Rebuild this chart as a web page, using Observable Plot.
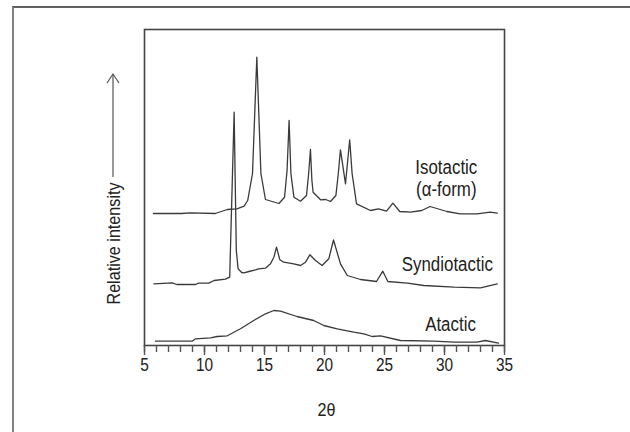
<!DOCTYPE html>
<html><head><meta charset="utf-8">
<script src="https://cdn.jsdelivr.net/npm/d3@7"></script>
<script src="https://cdn.jsdelivr.net/npm/@observablehq/plot@0.6"></script>
<style>
html,body{margin:0;padding:0;background:#fff;}
#wrap{position:relative;width:630px;height:432px;overflow:hidden;background:#fff;}
#chart{position:absolute;left:0;top:0;}
#outer{position:absolute;left:12px;top:6px;width:700px;height:600px;border-left:2px solid #808080;border-top:2px solid #606060;pointer-events:none;}
</style></head><body><div id="wrap"><div id="chart"></div><div id="outer"></div></div>
<script>
// 2θ positions (degrees) and relative intensity (arbitrary units)
const isoTheta = [5.75, 8.1, 8.8, 10.9, 11.9, 12.7, 13.3, 13.6, 14.0, 14.36, 14.7, 15.08, 16.2, 16.67, 16.88, 17.05, 17.2, 17.45, 18.0, 18.5, 18.68, 18.83, 18.95, 19.05, 19.67, 20.1, 20.5, 20.95, 21.15, 21.33, 21.75, 22.1, 22.3, 22.67, 23.83, 24.5, 25.17, 25.7, 26.27, 27.17, 28.1, 28.8, 30.2, 31.3, 32.7, 33.8, 34.4];
const isoIntensity = [132, 132, 132.7, 132, 136, 136.7, 139.3, 145, 172, 288.3, 172, 146, 142, 148.3, 175, 225, 172, 148.3, 144.3, 150, 172, 196, 165, 153.3, 145.7, 146, 144, 150, 172, 195.7, 161.7, 205.7, 172, 141.7, 135, 136.7, 134.3, 142.3, 134, 133.3, 135, 139, 134, 131.7, 131.7, 133.3, 132.3];

const synTheta = [5.78, 7.3, 7.7, 9.25, 9.5, 10.36, 10.8, 11.75, 12.1, 12.47, 12.65, 12.8, 13.1, 13.28, 13.7, 14.25, 14.5, 15.08, 15.5, 15.78, 16.0, 16.28, 16.6, 17.44, 18.0, 18.42, 18.78, 19.25, 19.8, 20.36, 20.75, 21.33, 21.9, 23.0, 24.33, 24.86, 25.28, 26.9, 28.28, 30.8, 33.0, 34.4];
const synIntensity = [61.7, 62.7, 61, 61, 62.3, 62.3, 65, 66.3, 68.3, 233.3, 95, 76.7, 73, 72.7, 74, 75.7, 76.7, 77.3, 81.7, 88.3, 98.3, 85.7, 83.3, 81.7, 80, 83.3, 90.7, 85, 80, 86.7, 105.5, 81.7, 70, 66, 64, 74.3, 64, 62.3, 60, 58.3, 57.7, 61.7];

const ataTheta = [5.92, 8.97, 9.25, 10.5, 11.06, 11.9, 13.0, 14.1, 15.08, 15.78, 16.33, 17.7, 19.1, 19.94, 21.06, 22.44, 23.28, 23.97, 24.67, 26.33, 29.1, 30.78, 32.7, 33.4, 34.5];
const ataIntensity = [4.3, 4.3, 6.7, 7.7, 9, 9.7, 16.7, 25, 31.7, 35, 34.3, 29, 25, 20, 16.7, 13.3, 11.7, 9, 9.7, 5, 4.3, 3.3, 3.3, 5, 2.3];

const seriesNames = ["Isotactic\n(α-form)", "Syndiotactic", "Atactic"];
const majorTicks = [5, 10, 15, 20, 25, 30, 35];
const minorTicks = d3.range(5, 36, 1);
const xLabel = "2θ";
const yLabel = "Relative intensity";

const toRows = (name, xs, ys) => xs.map((t, i) => ({form: name, theta: t, intensity: ys[i]}));
const iso = toRows(seriesNames[0], isoTheta, isoIntensity);
const syn = toRows(seriesNames[1], synTheta, synIntensity);
const ata = toRows(seriesNames[2], ataTheta, ataIntensity);
const all = [...iso, ...syn, ...ata];

const font = "'Liberation Sans Narrow', 'Liberation Sans', Arial, sans-serif";
const ink = "#3a3a3a";
const textInk = "#222";

// decorative arrow for the y label, placed relative to the frame
function yArrow(index, scales, values, dims) {
  const g = d3.create("svg:g").attr("stroke", "#555").attr("fill", "none").attr("stroke-width", 1.2);
  const x = dims.marginLeft - 31;
  const top = dims.marginTop + 45;
  const bottom = dims.marginTop + 148;
  g.append("line").attr("x1", x).attr("x2", x).attr("y1", bottom).attr("y2", top);
  g.append("path").attr("d", `M${x - 6},${top + 9}L${x},${top}L${x + 6},${top + 9}`);
  return g.node();
}

const chart = Plot.plot({
  width: 630,
  height: 432,
  marginLeft: 144,
  marginRight: 126,
  marginTop: 29,
  marginBottom: 87,
  style: {fontFamily: font, fontSize: "17px", background: "transparent", color: textInk},
  x: {domain: [5, 35]},
  y: {domain: [0, 316], axis: null},
  marks: [
    Plot.line(all, {x: "theta", y: "intensity", z: "form", stroke: ink, strokeWidth: 1.3}),
    Plot.frame({stroke: "#444", strokeWidth: 1.6}),
    Plot.axisX({ticks: minorTicks, tickSize: 7, text: null, stroke: "#555", strokeWidth: 1.4, label: null}),
    Plot.axisX({ticks: majorTicks, tickSize: 10, tickPadding: 3, fontSize: 17.5, stroke: "#555", strokeWidth: 1.4, fill: textInk, label: null}),
    Plot.text([iso[iso.length - 1]], {x: "theta", y: "intensity", text: () => seriesNames[0], dx: -51, dy: -35, fontSize: 20, fill: textInk, lineHeight: 1.1}),
    Plot.text([syn[syn.length - 1]], {x: "theta", y: "intensity", text: () => seriesNames[1], dx: -50, dy: -19, fontSize: 20, fill: textInk}),
    Plot.text([ata[ata.length - 1]], {x: "theta", y: "intensity", text: () => seriesNames[2], dx: -48, dy: -19, fontSize: 20, fill: textInk}),
    Plot.text([xLabel], {frameAnchor: "bottom", text: d => d, dy: 70, dx: 2, fontSize: 19, fill: textInk}),
    Plot.text([yLabel], {frameAnchor: "left", textAnchor: "middle", text: d => d, rotate: -90, dx: -31, dy: 56, fontSize: 19, fill: textInk}),
    yArrow
  ]
});
document.getElementById("chart").appendChild(chart);

// emulate the condensed typeface of the original by squeezing glyphs horizontally
const squeeze = {"17.5px": 0.88, "20px": 0.845, "19px": 0.85};
chart.querySelectorAll("text").forEach(t => {
  const spans = t.querySelectorAll("tspan");
  const targets = spans.length ? Array.from(spans) : [t];
  const k = squeeze[getComputedStyle(t).fontSize] || 0.88;
  targets.forEach(el => {
    const L = el.getComputedTextLength();
    if (L > 0) {
      el.setAttribute("textLength", (L * k).toFixed(2));
      el.setAttribute("lengthAdjust", "spacingAndGlyphs");
    }
  });
});
</script>
</body></html>
